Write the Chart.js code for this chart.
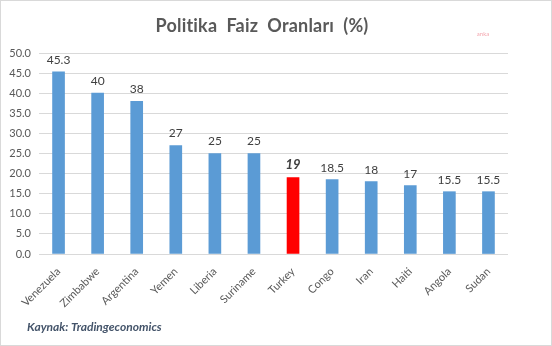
<!DOCTYPE html>
<html>
<head>
<meta charset="utf-8">
<script src="https://cdn.jsdelivr.net/npm/chart.js@4"></script>
<style>
  html, body { margin: 0; padding: 0; background: #fff; }
  #wrap { position: relative; width: 552px; height: 346px; box-sizing: border-box; border: 1px solid #d9d9d9; }
  canvas { display: block; }
</style>
</head>
<body>
<div id="wrap"><canvas id="chart" width="550" height="344"></canvas></div>
<script>
// Politika faiz oranları (%), kaynak: Tradingeconomics
const countries = ['Venezuela', 'Zimbabwe', 'Argentina', 'Yemen', 'Liberia', 'Suriname',
                   'Turkey', 'Congo', 'Iran', 'Haiti', 'Angola', 'Sudan'];
const rates = [45.3, 40, 38, 27, 25, 25, 19, 18.5, 18, 17, 15.5, 15.5];
const rateLabels = ['45.3', '40', '38', '27', '25', '25', '19', '18.5', '18', '17', '15.5', '15.5'];
const highlight = 'Turkey';

const FONT = 'Lato, "Liberation Sans", sans-serif';

// değer etiketleri + başlık + kaynak notu
const decorations = {
    id: 'decorations',
    afterDatasetsDraw(chart) {
        const ctx = chart.ctx;
        const meta = chart.getDatasetMeta(0);
        ctx.save();
        ctx.textAlign = 'center';
        ctx.textBaseline = 'bottom';
        meta.data.forEach((bar, i) => {
            const hl = countries[i] === highlight;
            ctx.fillStyle = '#404040';
            ctx.font = (hl ? 'italic bold 13px ' : '12px ') + FONT;
            ctx.fillText(rateLabels[i], bar.x, bar.y - 6);
        });

        ctx.fillStyle = '#595959';
        ctx.font = 'bold 18px ' + FONT;
        ctx.textBaseline = 'middle';
        ctx.letterSpacing = '0.2px'; // "ti" bitişik harfini kapatır
        ctx.fillText('Politika  Faiz  Oranları  (%)', 261, 25);
        ctx.letterSpacing = '0px';

        ctx.fillStyle = '#f4a6ae';
        ctx.font = '6px ' + FONT;
        ctx.fillText('anka', 482, 33);

        ctx.textAlign = 'left';
        ctx.fillStyle = '#44546a';
        ctx.font = 'italic bold 12px ' + FONT;
        ctx.fillText('Kaynak: Tradingeconomics', 26, 326);
        ctx.restore();
    }
};

new Chart(document.getElementById('chart'), {
    type: 'bar',
    data: {
        labels: countries,
        datasets: [{
            data: rates,
            backgroundColor: countries.map(c => c === highlight ? '#ff0000' : '#5b9bd5'),
            barThickness: 12
        }]
    },
    options: {
        responsive: false,
        animation: false,
        layout: { padding: { top: 52, right: 43, bottom: 0, left: 0 } },
        plugins: {
            legend: { display: false },
            tooltip: { enabled: false }
        },
        scales: {
            x: {
                grid: { display: false },
                border: { display: false },
                ticks: {
                    color: '#595959',
                    font: { size: 11, family: FONT },
                    minRotation: 45,
                    maxRotation: 45,
                    padding: 3
                },
                afterFit(s) { s.height = 91; }
            },
            y: {
                min: 0,
                max: 50,
                border: { display: false },
                grid: { color: '#d9d9d9', drawTicks: false },
                ticks: {
                    stepSize: 5,
                    color: '#595959',
                    font: { size: 11, family: FONT },
                    padding: 8,
                    callback: v => v.toFixed(1)
                },
                afterFit(s) { s.width = 38; }
            }
        }
    },
    plugins: [decorations]
});
</script>
</body>
</html>
